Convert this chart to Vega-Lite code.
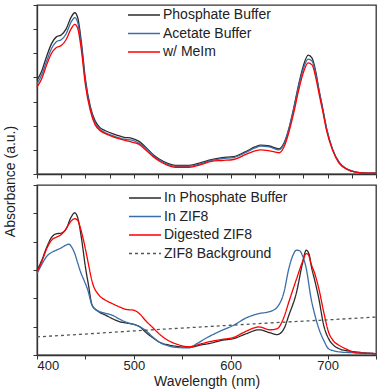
{
"$schema": "https://vega.github.io/schema/vega-lite/v6.json",
"padding": {"left": 2, "top": 3, "right": 3, "bottom": 0},
"spacing": 11,
"bounds": "flush",
"datasets": {
"top": [
{"wl":400,"series":"Phosphate Buffer","abs":0.97},{"wl":405,"series":"Phosphate Buffer","abs":1.07},{"wl":410,"series":"Phosphate Buffer","abs":1.22},{"wl":415,"series":"Phosphate Buffer","abs":1.35},{"wl":420,"series":"Phosphate Buffer","abs":1.42},{"wl":425,"series":"Phosphate Buffer","abs":1.44},{"wl":430,"series":"Phosphate Buffer","abs":1.50},{"wl":435,"series":"Phosphate Buffer","abs":1.62},{"wl":439,"series":"Phosphate Buffer","abs":1.67},{"wl":442,"series":"Phosphate Buffer","abs":1.62},{"wl":446,"series":"Phosphate Buffer","abs":1.35},{"wl":450,"series":"Phosphate Buffer","abs":0.98},{"wl":455,"series":"Phosphate Buffer","abs":0.70},{"wl":460,"series":"Phosphate Buffer","abs":0.55},{"wl":465,"series":"Phosphate Buffer","abs":0.48},{"wl":470,"series":"Phosphate Buffer","abs":0.45},{"wl":480,"series":"Phosphate Buffer","abs":0.41},{"wl":490,"series":"Phosphate Buffer","abs":0.38},{"wl":498,"series":"Phosphate Buffer","abs":0.37},{"wl":505,"series":"Phosphate Buffer","abs":0.34},{"wl":512,"series":"Phosphate Buffer","abs":0.28},{"wl":520,"series":"Phosphate Buffer","abs":0.20},{"wl":527,"series":"Phosphate Buffer","abs":0.15},{"wl":535,"series":"Phosphate Buffer","abs":0.11},{"wl":543,"series":"Phosphate Buffer","abs":0.09},{"wl":557,"series":"Phosphate Buffer","abs":0.09},{"wl":570,"series":"Phosphate Buffer","abs":0.12},{"wl":580,"series":"Phosphate Buffer","abs":0.15},{"wl":591,"series":"Phosphate Buffer","abs":0.17},{"wl":603,"series":"Phosphate Buffer","abs":0.18},{"wl":615,"series":"Phosphate Buffer","abs":0.23},{"wl":625,"series":"Phosphate Buffer","abs":0.28},{"wl":631,"series":"Phosphate Buffer","abs":0.30},{"wl":640,"series":"Phosphate Buffer","abs":0.29},{"wl":650,"series":"Phosphate Buffer","abs":0.26},{"wl":655,"series":"Phosphate Buffer","abs":0.32},{"wl":660,"series":"Phosphate Buffer","abs":0.47},{"wl":665,"series":"Phosphate Buffer","abs":0.68},{"wl":670,"series":"Phosphate Buffer","abs":0.92},{"wl":675,"series":"Phosphate Buffer","abs":1.12},{"wl":680,"series":"Phosphate Buffer","abs":1.23},{"wl":684,"series":"Phosphate Buffer","abs":1.20},{"wl":688,"series":"Phosphate Buffer","abs":1.05},{"wl":691,"series":"Phosphate Buffer","abs":0.88},{"wl":695,"series":"Phosphate Buffer","abs":0.68},{"wl":699,"series":"Phosphate Buffer","abs":0.47},{"wl":705,"series":"Phosphate Buffer","abs":0.26},{"wl":712,"series":"Phosphate Buffer","abs":0.12},{"wl":720,"series":"Phosphate Buffer","abs":0.05},{"wl":729,"series":"Phosphate Buffer","abs":0.02},{"wl":740,"series":"Phosphate Buffer","abs":0.01},{"wl":750,"series":"Phosphate Buffer","abs":0.01},
{"wl":400,"series":"Acetate Buffer","abs":0.93},{"wl":405,"series":"Acetate Buffer","abs":1.03},{"wl":410,"series":"Acetate Buffer","abs":1.17},{"wl":415,"series":"Acetate Buffer","abs":1.30},{"wl":420,"series":"Acetate Buffer","abs":1.37},{"wl":425,"series":"Acetate Buffer","abs":1.39},{"wl":430,"series":"Acetate Buffer","abs":1.45},{"wl":435,"series":"Acetate Buffer","abs":1.57},{"wl":439,"series":"Acetate Buffer","abs":1.62},{"wl":442,"series":"Acetate Buffer","abs":1.57},{"wl":446,"series":"Acetate Buffer","abs":1.31},{"wl":450,"series":"Acetate Buffer","abs":0.95},{"wl":455,"series":"Acetate Buffer","abs":0.68},{"wl":460,"series":"Acetate Buffer","abs":0.53},{"wl":465,"series":"Acetate Buffer","abs":0.46},{"wl":470,"series":"Acetate Buffer","abs":0.43},{"wl":480,"series":"Acetate Buffer","abs":0.39},{"wl":490,"series":"Acetate Buffer","abs":0.36},{"wl":498,"series":"Acetate Buffer","abs":0.35},{"wl":505,"series":"Acetate Buffer","abs":0.32},{"wl":512,"series":"Acetate Buffer","abs":0.27},{"wl":520,"series":"Acetate Buffer","abs":0.19},{"wl":527,"series":"Acetate Buffer","abs":0.14},{"wl":535,"series":"Acetate Buffer","abs":0.10},{"wl":543,"series":"Acetate Buffer","abs":0.08},{"wl":557,"series":"Acetate Buffer","abs":0.08},{"wl":570,"series":"Acetate Buffer","abs":0.11},{"wl":580,"series":"Acetate Buffer","abs":0.14},{"wl":591,"series":"Acetate Buffer","abs":0.16},{"wl":603,"series":"Acetate Buffer","abs":0.17},{"wl":615,"series":"Acetate Buffer","abs":0.22},{"wl":625,"series":"Acetate Buffer","abs":0.27},{"wl":631,"series":"Acetate Buffer","abs":0.29},{"wl":640,"series":"Acetate Buffer","abs":0.28},{"wl":650,"series":"Acetate Buffer","abs":0.25},{"wl":655,"series":"Acetate Buffer","abs":0.31},{"wl":660,"series":"Acetate Buffer","abs":0.46},{"wl":665,"series":"Acetate Buffer","abs":0.67},{"wl":670,"series":"Acetate Buffer","abs":0.90},{"wl":675,"series":"Acetate Buffer","abs":1.09},{"wl":680,"series":"Acetate Buffer","abs":1.19},{"wl":684,"series":"Acetate Buffer","abs":1.17},{"wl":688,"series":"Acetate Buffer","abs":1.03},{"wl":691,"series":"Acetate Buffer","abs":0.87},{"wl":695,"series":"Acetate Buffer","abs":0.67},{"wl":699,"series":"Acetate Buffer","abs":0.47},{"wl":705,"series":"Acetate Buffer","abs":0.26},{"wl":712,"series":"Acetate Buffer","abs":0.12},{"wl":720,"series":"Acetate Buffer","abs":0.05},{"wl":729,"series":"Acetate Buffer","abs":0.02},{"wl":740,"series":"Acetate Buffer","abs":0.01},{"wl":750,"series":"Acetate Buffer","abs":0.01},
{"wl":400,"series":"w/ MeIm","abs":0.90},{"wl":405,"series":"w/ MeIm","abs":0.99},{"wl":410,"series":"w/ MeIm","abs":1.13},{"wl":415,"series":"w/ MeIm","abs":1.25},{"wl":420,"series":"w/ MeIm","abs":1.31},{"wl":425,"series":"w/ MeIm","abs":1.33},{"wl":430,"series":"w/ MeIm","abs":1.39},{"wl":435,"series":"w/ MeIm","abs":1.50},{"wl":439,"series":"w/ MeIm","abs":1.55},{"wl":442,"series":"w/ MeIm","abs":1.51},{"wl":446,"series":"w/ MeIm","abs":1.27},{"wl":450,"series":"w/ MeIm","abs":0.92},{"wl":455,"series":"w/ MeIm","abs":0.66},{"wl":460,"series":"w/ MeIm","abs":0.51},{"wl":465,"series":"w/ MeIm","abs":0.45},{"wl":470,"series":"w/ MeIm","abs":0.42},{"wl":480,"series":"w/ MeIm","abs":0.38},{"wl":490,"series":"w/ MeIm","abs":0.35},{"wl":498,"series":"w/ MeIm","abs":0.33},{"wl":505,"series":"w/ MeIm","abs":0.31},{"wl":512,"series":"w/ MeIm","abs":0.25},{"wl":520,"series":"w/ MeIm","abs":0.18},{"wl":527,"series":"w/ MeIm","abs":0.13},{"wl":535,"series":"w/ MeIm","abs":0.09},{"wl":543,"series":"w/ MeIm","abs":0.07},{"wl":557,"series":"w/ MeIm","abs":0.07},{"wl":570,"series":"w/ MeIm","abs":0.10},{"wl":580,"series":"w/ MeIm","abs":0.13},{"wl":591,"series":"w/ MeIm","abs":0.14},{"wl":603,"series":"w/ MeIm","abs":0.15},{"wl":615,"series":"w/ MeIm","abs":0.20},{"wl":625,"series":"w/ MeIm","abs":0.24},{"wl":631,"series":"w/ MeIm","abs":0.25},{"wl":640,"series":"w/ MeIm","abs":0.24},{"wl":650,"series":"w/ MeIm","abs":0.22},{"wl":655,"series":"w/ MeIm","abs":0.28},{"wl":660,"series":"w/ MeIm","abs":0.43},{"wl":665,"series":"w/ MeIm","abs":0.63},{"wl":670,"series":"w/ MeIm","abs":0.86},{"wl":675,"series":"w/ MeIm","abs":1.05},{"wl":680,"series":"w/ MeIm","abs":1.15},{"wl":684,"series":"w/ MeIm","abs":1.13},{"wl":688,"series":"w/ MeIm","abs":0.99},{"wl":691,"series":"w/ MeIm","abs":0.84},{"wl":695,"series":"w/ MeIm","abs":0.65},{"wl":699,"series":"w/ MeIm","abs":0.45},{"wl":705,"series":"w/ MeIm","abs":0.25},{"wl":712,"series":"w/ MeIm","abs":0.11},{"wl":720,"series":"w/ MeIm","abs":0.05},{"wl":729,"series":"w/ MeIm","abs":0.02},{"wl":740,"series":"w/ MeIm","abs":0.01},{"wl":750,"series":"w/ MeIm","abs":0.01}
],
"bot": [
{"wl":400,"series":"In Phosphate Buffer","abs":2.99},{"wl":405,"series":"In Phosphate Buffer","abs":3.35},{"wl":410,"series":"In Phosphate Buffer","abs":3.80},{"wl":415,"series":"In Phosphate Buffer","abs":4.15},{"wl":420,"series":"In Phosphate Buffer","abs":4.28},{"wl":425,"series":"In Phosphate Buffer","abs":4.30},{"wl":430,"series":"In Phosphate Buffer","abs":4.45},{"wl":435,"series":"In Phosphate Buffer","abs":4.85},{"wl":439,"series":"In Phosphate Buffer","abs":5.02},{"wl":442,"series":"In Phosphate Buffer","abs":4.85},{"wl":446,"series":"In Phosphate Buffer","abs":4.10},{"wl":450,"series":"In Phosphate Buffer","abs":3.10},{"wl":453,"series":"In Phosphate Buffer","abs":2.50},{"wl":457,"series":"In Phosphate Buffer","abs":1.75},{"wl":464,"series":"In Phosphate Buffer","abs":1.52},{"wl":470,"series":"In Phosphate Buffer","abs":1.42},{"wl":478,"series":"In Phosphate Buffer","abs":1.28},{"wl":485,"series":"In Phosphate Buffer","abs":1.18},{"wl":492,"series":"In Phosphate Buffer","abs":1.13},{"wl":500,"series":"In Phosphate Buffer","abs":1.08},{"wl":506,"series":"In Phosphate Buffer","abs":1.00},{"wl":512,"series":"In Phosphate Buffer","abs":0.81},{"wl":520,"series":"In Phosphate Buffer","abs":0.60},{"wl":526,"series":"In Phosphate Buffer","abs":0.46},{"wl":535,"series":"In Phosphate Buffer","abs":0.36},{"wl":543,"series":"In Phosphate Buffer","abs":0.31},{"wl":557,"series":"In Phosphate Buffer","abs":0.27},{"wl":570,"series":"In Phosphate Buffer","abs":0.36},{"wl":577,"series":"In Phosphate Buffer","abs":0.40},{"wl":591,"series":"In Phosphate Buffer","abs":0.52},{"wl":603,"series":"In Phosphate Buffer","abs":0.58},{"wl":616,"series":"In Phosphate Buffer","abs":0.75},{"wl":629,"series":"In Phosphate Buffer","abs":0.89},{"wl":641,"series":"In Phosphate Buffer","abs":0.78},{"wl":648,"series":"In Phosphate Buffer","abs":0.72},{"wl":655,"series":"In Phosphate Buffer","abs":0.93},{"wl":660,"series":"In Phosphate Buffer","abs":1.40},{"wl":668,"series":"In Phosphate Buffer","abs":2.22},{"wl":674,"series":"In Phosphate Buffer","abs":3.22},{"wl":678,"series":"In Phosphate Buffer","abs":3.70},{"wl":681,"series":"In Phosphate Buffer","abs":3.55},{"wl":683,"series":"In Phosphate Buffer","abs":3.17},{"wl":687,"series":"In Phosphate Buffer","abs":2.60},{"wl":691,"series":"In Phosphate Buffer","abs":1.99},{"wl":696,"series":"In Phosphate Buffer","abs":1.05},{"wl":701,"series":"In Phosphate Buffer","abs":0.58},{"wl":706,"series":"In Phosphate Buffer","abs":0.35},{"wl":712,"series":"In Phosphate Buffer","abs":0.22},{"wl":720,"series":"In Phosphate Buffer","abs":0.15},{"wl":729,"series":"In Phosphate Buffer","abs":0.11},{"wl":740,"series":"In Phosphate Buffer","abs":0.07},{"wl":750,"series":"In Phosphate Buffer","abs":0.05},
{"wl":400,"series":"In ZIF8","abs":2.87},{"wl":405,"series":"In ZIF8","abs":3.20},{"wl":410,"series":"In ZIF8","abs":3.48},{"wl":415,"series":"In ZIF8","abs":3.62},{"wl":420,"series":"In ZIF8","abs":3.70},{"wl":425,"series":"In ZIF8","abs":3.78},{"wl":430,"series":"In ZIF8","abs":3.88},{"wl":433,"series":"In ZIF8","abs":3.91},{"wl":436,"series":"In ZIF8","abs":3.80},{"wl":439,"series":"In ZIF8","abs":3.58},{"wl":442,"series":"In ZIF8","abs":3.25},{"wl":445,"series":"In ZIF8","abs":2.93},{"wl":449,"series":"In ZIF8","abs":2.60},{"wl":452,"series":"In ZIF8","abs":2.34},{"wl":457,"series":"In ZIF8","abs":1.75},{"wl":464,"series":"In ZIF8","abs":1.54},{"wl":470,"series":"In ZIF8","abs":1.48},{"wl":478,"series":"In ZIF8","abs":1.40},{"wl":485,"series":"In ZIF8","abs":1.27},{"wl":492,"series":"In ZIF8","abs":1.16},{"wl":500,"series":"In ZIF8","abs":1.08},{"wl":506,"series":"In ZIF8","abs":1.00},{"wl":512,"series":"In ZIF8","abs":0.87},{"wl":520,"series":"In ZIF8","abs":0.62},{"wl":526,"series":"In ZIF8","abs":0.46},{"wl":535,"series":"In ZIF8","abs":0.33},{"wl":543,"series":"In ZIF8","abs":0.27},{"wl":557,"series":"In ZIF8","abs":0.25},{"wl":565,"series":"In ZIF8","abs":0.40},{"wl":577,"series":"In ZIF8","abs":0.64},{"wl":591,"series":"In ZIF8","abs":0.87},{"wl":603,"series":"In ZIF8","abs":1.05},{"wl":616,"series":"In ZIF8","abs":1.31},{"wl":629,"series":"In ZIF8","abs":1.46},{"wl":641,"series":"In ZIF8","abs":1.54},{"wl":648,"series":"In ZIF8","abs":1.69},{"wl":655,"series":"In ZIF8","abs":2.22},{"wl":660,"series":"In ZIF8","abs":3.05},{"wl":664,"series":"In ZIF8","abs":3.50},{"wl":668,"series":"In ZIF8","abs":3.70},{"wl":671,"series":"In ZIF8","abs":3.68},{"wl":674,"series":"In ZIF8","abs":3.52},{"wl":678,"series":"In ZIF8","abs":3.05},{"wl":683,"series":"In ZIF8","abs":1.99},{"wl":687,"series":"In ZIF8","abs":1.40},{"wl":691,"series":"In ZIF8","abs":0.93},{"wl":696,"series":"In ZIF8","abs":0.52},{"wl":701,"series":"In ZIF8","abs":0.22},{"wl":706,"series":"In ZIF8","abs":0.15},{"wl":712,"series":"In ZIF8","abs":0.11},{"wl":720,"series":"In ZIF8","abs":0.09},{"wl":729,"series":"In ZIF8","abs":0.08},{"wl":740,"series":"In ZIF8","abs":0.06},{"wl":750,"series":"In ZIF8","abs":0.05},
{"wl":400,"series":"Digested ZIF8","abs":2.93},{"wl":405,"series":"Digested ZIF8","abs":3.30},{"wl":410,"series":"Digested ZIF8","abs":3.75},{"wl":415,"series":"Digested ZIF8","abs":4.05},{"wl":420,"series":"Digested ZIF8","abs":4.16},{"wl":425,"series":"Digested ZIF8","abs":4.25},{"wl":430,"series":"Digested ZIF8","abs":4.45},{"wl":435,"series":"Digested ZIF8","abs":4.72},{"wl":439,"series":"Digested ZIF8","abs":4.81},{"wl":442,"series":"Digested ZIF8","abs":4.75},{"wl":445,"series":"Digested ZIF8","abs":4.46},{"wl":449,"series":"Digested ZIF8","abs":3.90},{"wl":452,"series":"Digested ZIF8","abs":3.40},{"wl":457,"series":"Digested ZIF8","abs":2.58},{"wl":464,"series":"Digested ZIF8","abs":2.11},{"wl":470,"series":"Digested ZIF8","abs":1.95},{"wl":478,"series":"Digested ZIF8","abs":1.81},{"wl":485,"series":"Digested ZIF8","abs":1.70},{"wl":492,"series":"Digested ZIF8","abs":1.61},{"wl":500,"series":"Digested ZIF8","abs":1.58},{"wl":506,"series":"Digested ZIF8","abs":1.45},{"wl":512,"series":"Digested ZIF8","abs":1.22},{"wl":520,"series":"Digested ZIF8","abs":0.95},{"wl":526,"series":"Digested ZIF8","abs":0.75},{"wl":535,"series":"Digested ZIF8","abs":0.52},{"wl":543,"series":"Digested ZIF8","abs":0.40},{"wl":557,"series":"Digested ZIF8","abs":0.29},{"wl":570,"series":"Digested ZIF8","abs":0.40},{"wl":577,"series":"Digested ZIF8","abs":0.46},{"wl":591,"series":"Digested ZIF8","abs":0.55},{"wl":603,"series":"Digested ZIF8","abs":0.62},{"wl":616,"series":"Digested ZIF8","abs":0.84},{"wl":629,"series":"Digested ZIF8","abs":0.99},{"wl":641,"series":"Digested ZIF8","abs":0.89},{"wl":648,"series":"Digested ZIF8","abs":0.93},{"wl":655,"series":"Digested ZIF8","abs":1.34},{"wl":660,"series":"Digested ZIF8","abs":1.87},{"wl":668,"series":"Digested ZIF8","abs":2.69},{"wl":674,"series":"Digested ZIF8","abs":3.28},{"wl":678,"series":"Digested ZIF8","abs":3.58},{"wl":680,"series":"Digested ZIF8","abs":3.55},{"wl":683,"series":"Digested ZIF8","abs":3.22},{"wl":687,"series":"Digested ZIF8","abs":2.85},{"wl":691,"series":"Digested ZIF8","abs":2.34},{"wl":696,"series":"Digested ZIF8","abs":1.52},{"wl":701,"series":"Digested ZIF8","abs":0.81},{"wl":706,"series":"Digested ZIF8","abs":0.50},{"wl":712,"series":"Digested ZIF8","abs":0.34},{"wl":720,"series":"Digested ZIF8","abs":0.20},{"wl":729,"series":"Digested ZIF8","abs":0.08},{"wl":740,"series":"Digested ZIF8","abs":0.06},{"wl":750,"series":"Digested ZIF8","abs":0.05},
{"wl":400,"series":"ZIF8 Background","abs":0.64},{"wl":450,"series":"ZIF8 Background","abs":0.74},{"wl":500,"series":"ZIF8 Background","abs":0.85},{"wl":550,"series":"ZIF8 Background","abs":0.95},{"wl":600,"series":"ZIF8 Background","abs":1.05},{"wl":650,"series":"ZIF8 Background","abs":1.15},{"wl":700,"series":"ZIF8 Background","abs":1.24},{"wl":750,"series":"ZIF8 Background","abs":1.34}
]
},
"vconcat": [
{
"width": 339, "height": 169,
"data": {"name": "top"},
"mark": {"type": "line", "strokeWidth": 1.3, "interpolate": "monotone"},
"encoding": {
"x": {"field": "wl", "type": "quantitative", "scale": {"domain": [400, 750], "nice": false, "zero": false},
 "axis": {"values": [400,425,450,475,500,525,550,575,600,625,650,675,700,725,750], "labels": false, "title": null, "grid": false, "tickSize": 4}},
"y": {"field": "abs", "type": "quantitative", "scale": {"domain": [0, 1.75], "nice": false},
 "axis": {"values": [0,0.25,0.5,0.75,1,1.25,1.5,1.75], "labels": false, "grid": false, "tickSize": 4, "title": "Absorbance (a.u.)", "titleX": -27, "titleY": 176, "titleAngle": -90, "titleAlign": "center", "titleBaseline": "middle"}},
"color": {"field": "series", "type": "nominal", "sort": null,
 "scale": {"domain": ["Phosphate Buffer", "Acetate Buffer", "w/ MeIm"], "range": ["#2b2b2b", "#3a6ea8", "#ff0000"]},
 "legend": {"title": null, "orient": "none", "legendX": 89, "legendY": 3, "symbolType": "M-1,0H5.4", "symbolSize": 100, "symbolStrokeWidth": 1.5, "labelFontSize": 14, "labelOffset": 23, "rowPadding": 4.5}}
}
},
{
"width": 339, "height": 170,
"data": {"name": "bot"},
"mark": {"type": "line", "strokeWidth": 1.3, "interpolate": "monotone"},
"encoding": {
"x": {"field": "wl", "type": "quantitative", "scale": {"domain": [400, 750], "nice": false, "zero": false},
 "axis": {"values": [400,450,500,550,600,650,700,750], "labelExpr": "datum.value % 100 == 0 && datum.value < 750 ? datum.value : ''", "title": "Wavelength (nm)", "grid": false, "tickSize": 4, "labelPadding": 0, "titlePadding": 2}},
"y": {"field": "abs", "type": "quantitative", "scale": {"domain": [0, 6], "nice": false},
 "axis": {"values": [0,1,2,3,4,5,6], "labels": false, "grid": false, "tickSize": 4, "title": null}},
"color": {"field": "series", "type": "nominal", "sort": null,
 "scale": {"domain": ["In Phosphate Buffer", "In ZIF8", "Digested ZIF8", "ZIF8 Background"], "range": ["#2b2b2b", "#3a6ea8", "#ff0000", "#555555"]},
 "legend": {"title": null, "orient": "none", "legendX": 90, "legendY": 6, "symbolType": "M-1,0H5.4", "symbolSize": 100, "symbolStrokeWidth": 1.5, "labelFontSize": 14, "labelOffset": 23, "rowPadding": 4.5}},
"strokeDash": {"field": "series", "type": "nominal", "sort": null,
 "scale": {"domain": ["In Phosphate Buffer", "In ZIF8", "Digested ZIF8", "ZIF8 Background"], "range": [[1,0],[1,0],[1,0],[3,3]]},
 "legend": {"title": null, "orient": "none", "legendX": 90, "legendY": 6, "symbolType": "M-1,0H5.4", "symbolSize": 100, "symbolStrokeWidth": 1.5, "labelFontSize": 14, "labelOffset": 23, "rowPadding": 4.5}}
}
}
],
"resolve": {"scale": {"color": "independent", "strokeDash": "independent"}, "legend": {"color": "independent", "strokeDash": "independent"}},
"config": {
"font": "Liberation Sans",
"view": {"stroke": "#333333", "strokeWidth": 1.3},
"axis": {"domainColor": "#333333", "domainWidth": 1.3, "tickColor": "#333333", "labelFont": "Liberation Sans", "labelFontSize": 13, "labelColor": "#222222", "titleFont": "Liberation Sans", "titleFontSize": 14, "titleFontWeight": "normal", "titleColor": "#222222"},
"legend": {"labelFont": "Liberation Sans", "labelColor": "#222222", "labelLimit": 300}
}
}
